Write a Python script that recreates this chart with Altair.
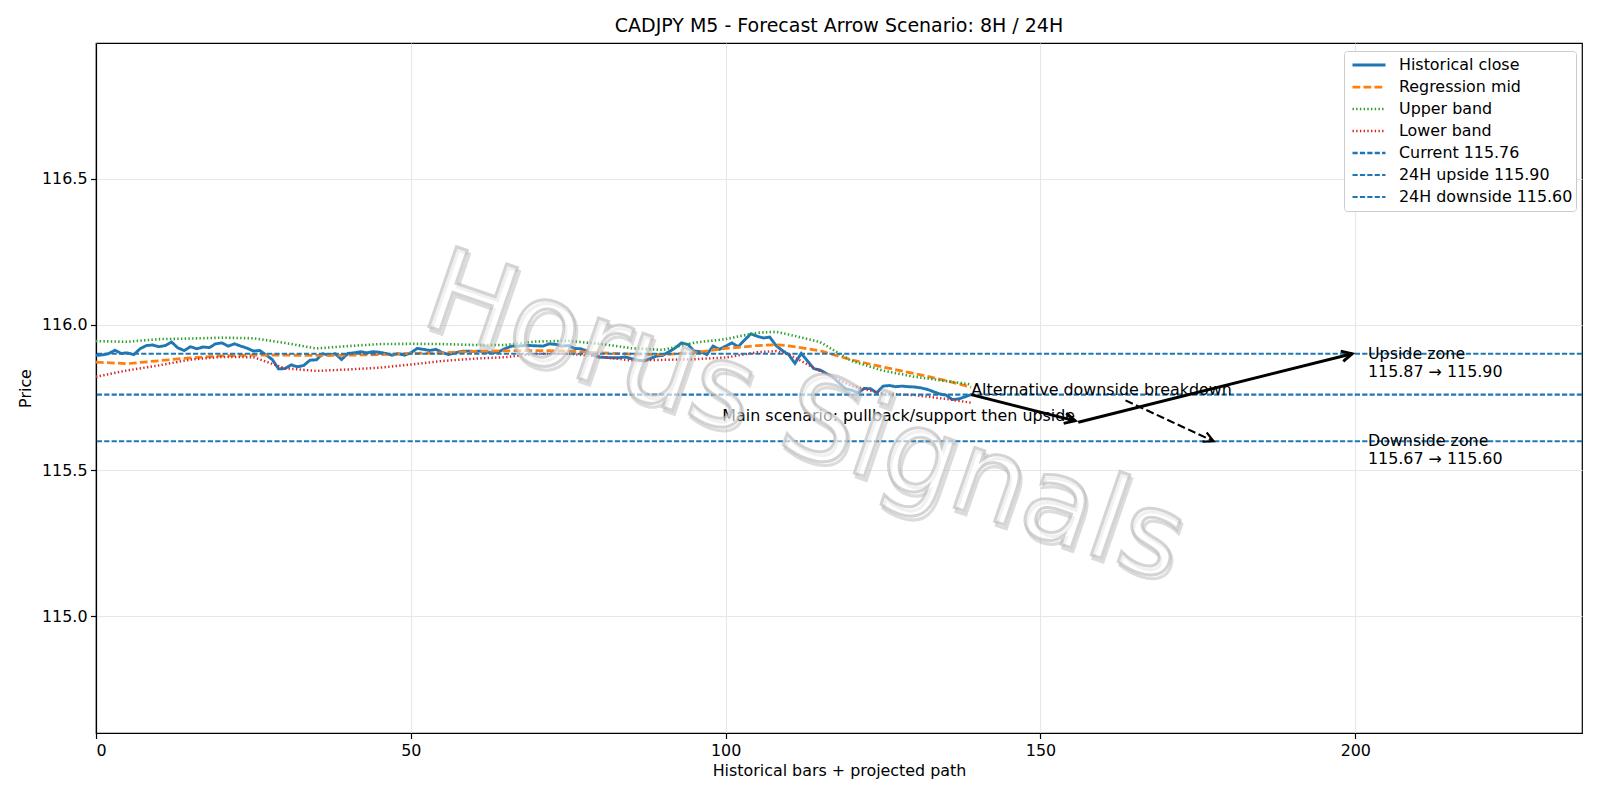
import math
import altair as alt
import pandas as pd

# ---- chart values -------------------------------------------------------
close = [
    115.894, 115.896, 115.900, 115.912, 115.901, 115.903, 115.897, 115.917, 115.928, 115.930,
    115.924, 115.928, 115.940, 115.920, 115.911, 115.924, 115.917, 115.923, 115.921, 115.934,
    115.937, 115.926, 115.934, 115.926, 115.919, 115.909, 115.911, 115.896, 115.880, 115.848,
    115.849, 115.862, 115.855, 115.860, 115.878, 115.879, 115.900, 115.895, 115.900, 115.880,
    115.901, 115.903, 115.907, 115.903, 115.907, 115.905, 115.901, 115.895, 115.900, 115.895,
    115.903, 115.918, 115.915, 115.911, 115.915, 115.904, 115.897, 115.903, 115.908, 115.909,
    115.908, 115.909, 115.905, 115.903, 115.907, 115.918, 115.926, 115.926, 115.928, 115.928,
    115.927, 115.926, 115.934, 115.932, 115.926, 115.928, 115.918, 115.917, 115.909, 115.894,
    115.888, 115.887, 115.886, 115.886, 115.889, 115.883, 115.878, 115.875, 115.883, 115.892,
    115.894, 115.907, 115.920, 115.937, 115.932, 115.909, 115.907, 115.897, 115.926, 115.915,
    115.926, 115.937, 115.924, 115.947, 115.968, 115.960, 115.954, 115.957, 115.928, 115.911,
    115.897, 115.867, 115.901, 115.875, 115.849, 115.844, 115.832, 115.820, 115.800, 115.781,
    115.775, 115.766, 115.781, 115.780, 115.766, 115.789, 115.791, 115.787, 115.789, 115.787,
    115.786, 115.783, 115.778, 115.770, 115.762, 115.758, 115.743, 115.745, 115.752, 115.760,
]

band_x = [0, 5, 10, 15, 20, 25, 30, 35, 40, 45, 50, 55, 60, 65, 70, 75, 80, 85, 90, 95,
          100, 105, 108, 110, 115, 120, 125, 130, 135, 139]
upper = [115.943, 115.941, 115.950, 115.952, 115.955, 115.953, 115.937, 115.918, 115.926, 115.933,
         115.934, 115.933, 115.930, 115.930, 115.942, 115.944, 115.934, 115.919, 115.913, 115.938,
         115.950, 115.972, 115.975, 115.966, 115.940, 115.875, 115.842, 115.821, 115.806, 115.795]
mid = [115.871, 115.866, 115.876, 115.886, 115.893, 115.895, 115.895, 115.894, 115.895, 115.897,
       115.901, 115.903, 115.908, 115.910, 115.911, 115.909, 115.903, 115.899, 115.897, 115.904,
       115.918, 115.928, 115.931, 115.927, 115.910, 115.879, 115.854, 115.832, 115.808, 115.785]
lower = [115.821, 115.843, 115.860, 115.880, 115.889, 115.888, 115.850, 115.841, 115.846, 115.852,
         115.863, 115.875, 115.883, 115.888, 115.900, 115.900, 115.890, 115.877, 115.879, 115.881,
         115.887, 115.905, 115.909, 115.898, 115.840, 115.790, 115.763, 115.758, 115.745, 115.732]

current_level = 115.76
upside_level = 115.90
downside_level = 115.60

series_names = ["Historical close", "Regression mid", "Upper band", "Lower band",
                f"Current {current_level:.2f}", f"24H upside {upside_level:.2f}",
                f"24H downside {downside_level:.2f}"]
series_colors = ["#1f77b4", "#ff7f0e", "#2ca02c", "#d62728", "#1f77b4", "#1f77b4", "#1f77b4"]
series_dash = [[1, 0], [7.7, 3.3], [1.4, 2.3], [1.4, 2.3], [5.2, 2.2], [5.2, 2.2], [5.2, 2.2]]
series_width = [2.9, 2.0, 1.4, 1.4, 1.4, 1.4, 1.4]

# projected path: main scenario (solid) and alternative breakdown (dashed)
arrow_x0 = [139, 156, 163.5]
arrow_y0 = [115.76, 115.665, 115.74]
arrow_x1 = [155.5, 199.5, 177.5]
arrow_y1 = [115.67, 115.90, 115.60]
arrow_kind = ["main", "main", "alt"]

notes = ["Alternative downside breakdown", "Main scenario: pullback/support then upside"]
notes_x = [139, 155.5]
notes_y = [115.76, 115.67]
notes_align = ["left", "right"]

zones = ["Upside zone\n115.87 \u2192 115.90", "Downside zone\n115.67 \u2192 115.60"]
zones_x = [202, 202]
zones_y = [upside_level, downside_level]

X_DOMAIN = [0, 236]
Y_DOMAIN = [114.60, 116.965]
W, H = 1486, 690
FONT = "DejaVu Sans"
FS = 15.9

# ---- tables ------------------------------------------------------------
lines = pd.concat([
    pd.DataFrame({"x": range(len(close)), "y": close, "series": series_names[0]}),
    pd.DataFrame({"x": band_x, "y": mid, "series": series_names[1]}),
    pd.DataFrame({"x": band_x, "y": upper, "series": series_names[2]}),
    pd.DataFrame({"x": band_x, "y": lower, "series": series_names[3]}),
], ignore_index=True)
levels = pd.DataFrame({"y": [current_level, upside_level, downside_level],
                       "series": series_names[4:]})

sx = W / (X_DOMAIN[1] - X_DOMAIN[0])
sy = H / (Y_DOMAIN[1] - Y_DOMAIN[0])
arrows = pd.DataFrame({"x0": arrow_x0, "y0": arrow_y0, "x1": arrow_x1, "y1": arrow_y1,
                       "kind": arrow_kind})
arrows["angle"] = [
    math.degrees(math.atan2(-(b - a) * sy, (d - c) * sx)) % 360
    for a, b, c, d in zip(arrows.y0, arrows.y1, arrows.x0, arrows.x1)
]
note_df = pd.DataFrame({"x": notes_x, "y": notes_y, "text": notes, "align": notes_align})
zone_df = pd.DataFrame({"x": zones_x, "y": zones_y, "text": zones})

xs = alt.Scale(domain=X_DOMAIN, nice=False, zero=False)
ys = alt.Scale(domain=Y_DOMAIN, nice=False, zero=False)

color = alt.Color("series:N", scale=alt.Scale(domain=series_names, range=series_colors),
                  legend=alt.Legend(title=None))
dash = alt.StrokeDash("series:N", scale=alt.Scale(domain=series_names, range=series_dash),
                      legend=alt.Legend(title=None))
width = alt.StrokeWidth("series:N", scale=alt.Scale(domain=series_names, range=series_width),
                        legend=alt.Legend(title=None))

x_axis = alt.Axis(title="Historical bars + projected path", values=[0, 50, 100, 150, 200],
                  format="d", grid=True)
y_axis = alt.Axis(title="Price", values=[115.0, 115.5, 116.0, 116.5], format=".1f", grid=True)

base_lines = alt.Chart(lines).mark_line().encode(
    x=alt.X("x:Q", scale=xs, axis=x_axis),
    y=alt.Y("y:Q", scale=ys, axis=y_axis),
    color=color, strokeDash=dash, strokeWidth=width,
    order="x:Q",
)

level_rules = alt.Chart(levels).mark_rule().encode(
    y=alt.Y("y:Q", scale=ys), color=color, strokeDash=dash, strokeWidth=width,
)

main_arrows = alt.Chart(arrows).transform_filter("datum.kind == 'main'")
alt_arrows = alt.Chart(arrows).transform_filter("datum.kind == 'alt'")

arrow_main = main_arrows.mark_rule(color="black", strokeWidth=2.9).encode(
    x=alt.X("x0:Q", scale=xs), y=alt.Y("y0:Q", scale=ys), x2="x1:Q", y2="y1:Q")
arrow_alt = alt_arrows.mark_rule(color="black", strokeWidth=2.1, strokeDash=[8, 3.5]).encode(
    x=alt.X("x0:Q", scale=xs), y=alt.Y("y0:Q", scale=ys), x2="x1:Q", y2="y1:Q")

HEAD = "M -2 -1 L 0 0 L -2 1"
head_main = main_arrows.mark_point(shape=HEAD, filled=False, color="black", size=110,
                                   strokeWidth=2.9, opacity=1).encode(
    x=alt.X("x1:Q", scale=xs), y=alt.Y("y1:Q", scale=ys), angle=alt.Angle("angle:Q", scale=None))
head_alt = alt_arrows.mark_point(shape=HEAD, filled=False, color="black", size=100,
                                 strokeWidth=2.1, opacity=1).encode(
    x=alt.X("x1:Q", scale=xs), y=alt.Y("y1:Q", scale=ys), angle=alt.Angle("angle:Q", scale=None))

note_left = alt.Chart(note_df).transform_filter("datum.align == 'left'").mark_text(
    align="left", baseline="alphabetic", font=FONT, fontSize=FS, color="black").encode(
    x=alt.X("x:Q", scale=xs), y=alt.Y("y:Q", scale=ys), text="text:N")
note_right = alt.Chart(note_df).transform_filter("datum.align == 'right'").mark_text(
    align="right", baseline="alphabetic", font=FONT, fontSize=FS, color="black").encode(
    x=alt.X("x:Q", scale=xs), y=alt.Y("y:Q", scale=ys), text="text:N")

zone_text = alt.Chart(zone_df).mark_text(
    align="left", baseline="middle", font=FONT, fontSize=FS, color="black",
    lineBreak="\n", lineHeight=18).encode(
    x=alt.X("x:Q", scale=xs), y=alt.Y("y:Q", scale=ys), text="text:N")

# brand watermark: soft shadow underneath, outlined letters on top
WM_SIZE = 116
wm = alt.Chart(pd.DataFrame({"t": ["Horus Signals"]}))
wm_shadow = wm.mark_text(
    font=FONT, fontSize=WM_SIZE, angle=19, align="center", baseline="middle",
    fill="none", stroke="#9a9a9a", strokeWidth=3.2, strokeOpacity=0.35, dx=3, dy=3,
).encode(x=alt.value(W * 0.477), y=alt.value(H * 0.545), text="t:N")
wm_front = wm.mark_text(
    font=FONT, fontSize=WM_SIZE, angle=19, align="center", baseline="middle",
    fill="white", fillOpacity=0.6, stroke="#b8b8b8", strokeWidth=3.0, strokeOpacity=0.6,
).encode(x=alt.value(W * 0.477), y=alt.value(H * 0.545), text="t:N")

chart = alt.layer(
    base_lines, level_rules, arrow_main, arrow_alt, head_main, head_alt,
    note_left, note_right, zone_text, wm_shadow, wm_front,
).properties(
    width=W, height=H,
    title=alt.Title("CADJPY M5 - Forecast Arrow Scenario: 8H / 24H", font=FONT, fontSize=19,
                    fontWeight="normal", color="black", anchor="middle", offset=7),
    autosize=alt.AutoSizeParams(type="none"),
    padding={"left": 96, "top": 43, "right": 18, "bottom": 67},
).configure_view(
    stroke="black", strokeWidth=1.2,
).configure_axis(
    labelFont=FONT, titleFont=FONT, labelFontSize=FS, titleFontSize=FS,
    titleFontWeight="normal", labelColor="black", titleColor="black",
    domainColor="black", domainWidth=1.2, tickColor="black", tickWidth=1.2, tickSize=5.5,
    labelPadding=3.5, gridColor="#e7e7e7", gridWidth=1.1,
).configure_axisX(
    titlePadding=5,
).configure_axisY(
    titlePadding=8,
).configure_legend(
    orient="none", legendX=1248, legendY=8,
    labelFont=FONT, labelFontSize=FS, labelColor="black", labelLimit=300,
    symbolType="stroke", symbolSize=1089, clipHeight=22, rowPadding=0,
    labelOffset=12, padding=3, symbolOffset=4, fillColor="white", strokeColor="#cccccc",
    cornerRadius=3,
)

chart.save("out.html", embed_options={"renderer": "svg", "actions": False})
